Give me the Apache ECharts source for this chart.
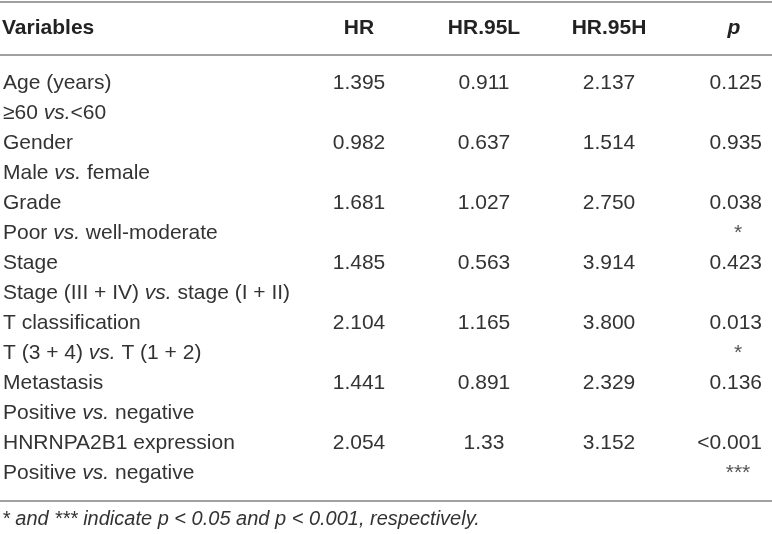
<!DOCTYPE html>
<html>
<head>
<meta charset="utf-8">
<script src="https://cdn.jsdelivr.net/npm/echarts@6/dist/echarts.min.js"></script>
<style>
html, body { margin: 0; padding: 0; background: #fff; }
#table { width: 772px; height: 534px; }
</style>
</head>
<body>
<div id="table"></div>
<script>
var headers = ['HR', 'HR.95L', 'HR.95H', 'p'];
var variables = ['Age (years)', 'Gender', 'Grade', 'Stage', 'T classification', 'Metastasis', 'HNRNPA2B1 expression'];
var comparisons = ['≥60 vs.<60', 'Male vs. female', 'Poor vs. well-moderate', 'Stage (III + IV) vs. stage (I + II)', 'T (3 + 4) vs. T (1 + 2)', 'Positive vs. negative', 'Positive vs. negative'];
var hr = ['1.395', '0.982', '1.681', '1.485', '2.104', '1.441', '2.054'];
var hr95L = ['0.911', '0.637', '1.027', '0.563', '1.165', '0.891', '1.33'];
var hr95H = ['2.137', '1.514', '2.750', '3.914', '3.800', '2.329', '3.152'];
var pValues = ['0.125', '0.935', '0.038', '0.423', '0.013', '0.136', '<0.001'];
var pStars = ['', '', '*', '', '*', '', '***'];
var footnote = '* and *** indicate p < 0.05 and p < 0.001, respectively.';

var FONT = '"Liberation Sans", Arial, Helvetica, sans-serif';
var TXT = '#333';

// two text lines per variable: name, then comparison
var lines = [];
variables.forEach(function (v, i) {
	lines.push(v);
	lines.push(comparisons[i]);
});

// cells: column index on x, line index on y
var cells = [];
var columns = [hr, hr95L, hr95H, pValues];
columns.forEach(function (col, c) {
	col.forEach(function (val, i) {
		cells.push({ col: c, row: i * 2, text: val, align: c === 3 ? 'right' : 'center' });
	});
});
pStars.forEach(function (s, i) {
	if (s) cells.push({ col: 3, row: i * 2 + 1, text: s, align: 'center', star: true });
});

var chart = echarts.init(document.getElementById('table'));
var option = {
	backgroundColor: '#fff',
	animation: false,
	grid: { left: 358, right: 38, top: 68, height: 420 },
	xAxis: {
		type: 'category',
		position: 'top',
		data: headers,
		boundaryGap: false,
		axisLine: { show: false },
		axisTick: { show: false },
		splitLine: { show: false },
		axisLabel: {
			interval: 0,
			margin: 29,
			fontFamily: FONT,
			fontSize: 21,
			fontWeight: 'bold',
			color: '#222',
			formatter: function (v) {
				return v === 'p' ? '{p|p}' : v;
			},
			rich: {
				p: { fontFamily: FONT, fontSize: 21, fontWeight: 'bold', fontStyle: 'italic', color: '#222' }
			}
		}
	},
	yAxis: {
		type: 'category',
		inverse: true,
		data: lines,
		axisLine: { show: false },
		axisTick: { show: false },
		splitLine: { show: false },
		axisLabel: {
			interval: 0,
			align: 'left',
			margin: 356,
			fontFamily: FONT,
			fontSize: 21,
			color: TXT,
			formatter: function (v) {
				return v.split('vs.').join('{i|vs.}');
			},
			rich: {
				i: { fontFamily: FONT, fontSize: 21, fontStyle: 'italic', color: TXT }
			}
		}
	},
	series: [{
		type: 'custom',
		data: cells.map(function (c) { return [c.col, c.row]; }),
		renderItem: function (params, api) {
			var cell = cells[params.dataIndex];
			var pt = api.coord([api.value(0), api.value(1)]);
			var dx = cell.align === 'right' ? 28 : (cell.star ? 4 : 0);
			return {
				type: 'text',
				x: pt[0] + dx,
				y: pt[1],
				style: {
					text: cell.text,
					textAlign: cell.align,
					textVerticalAlign: 'middle',
					fontFamily: FONT,
					fontSize: 21,
					fill: cell.star ? '#555' : TXT
				}
			};
		}
	}],
	graphic: [
		{ type: 'line', shape: { x1: 0, y1: 2, x2: 772, y2: 2 }, style: { stroke: '#a0a0a0', lineWidth: 2 } },
		{ type: 'line', shape: { x1: 0, y1: 55, x2: 772, y2: 55 }, style: { stroke: '#a0a0a0', lineWidth: 2 } },
		{ type: 'line', shape: { x1: 0, y1: 501, x2: 772, y2: 501 }, style: { stroke: '#a0a0a0', lineWidth: 2 } },
		{
			type: 'text', x: 2, y: 28,
			style: { text: 'Variables', fontFamily: FONT, fontSize: 21, fontWeight: 'bold', fill: '#222', textVerticalAlign: 'middle' }
		},
		{
			type: 'text', x: 2, y: 519,
			style: { text: footnote, fontFamily: FONT, fontSize: 20, fontStyle: 'italic', fill: TXT, textVerticalAlign: 'middle' }
		}
	]
};
chart.setOption(option);
</script>
</body>
</html>
